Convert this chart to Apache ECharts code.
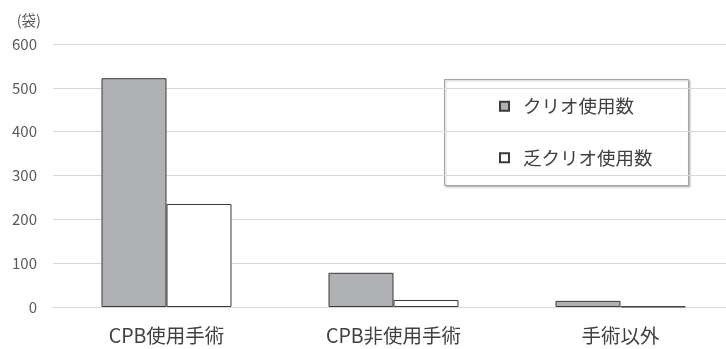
<!DOCTYPE html>
<html><head><meta charset="utf-8">
<script src="https://cdn.jsdelivr.net/npm/echarts@6/dist/echarts.min.js"></script>
<style>html,body{margin:0;padding:0;background:#fff}#c{width:726px;height:349px}</style>
</head><body><div id="c"></div>
<script>
const categories = ['CPB使用手術', 'CPB非使用手術', '手術以外'];
const cryoUsed = [522, 78, 14];
const cryoPoorUsed = [235, 16, 1];
const yTicks = [0, 100, 200, 300, 400, 500, 600];
const seriesNames = ['クリオ使用数', '乏クリオ使用数'];
const unitLabel = '(袋)';

const font = '"Noto Sans CJK JP", "Noto Sans", sans-serif';
const chart = echarts.init(document.getElementById('c'));
chart.setOption({
  animation: false,
  textStyle: { fontFamily: font },
  grid: { left: 53, width: 681, top: 44, height: 263, containLabel: false, outerBoundsMode: 'none' },
  xAxis: {
    type: 'category', data: categories,
    axisLine: { lineStyle: { color: '#d9d9d9', width: 1 } },
    axisTick: { show: false },
    axisLabel: { color: '#404040', fontSize: 19.5, margin: 19, fontFamily: font }
  },
  yAxis: {
    type: 'value', min: yTicks[0], max: yTicks[yTicks.length - 1], interval: 100,
    name: unitLabel, nameLocation: 'end', nameGap: 16,
    nameTextStyle: { color: '#595959', fontSize: 14.5, align: 'right', padding: [0, 12, 0, 0] },
    axisLine: { show: false }, axisTick: { show: false },
    splitLine: { lineStyle: { color: '#d9d9d9', width: 1 } },
    axisLabel: { color: '#595959', fontSize: 15, margin: 16 }
  },
  legend: {
    orient: 'vertical', left: 494, top: 92, itemWidth: 9, itemHeight: 9, itemGap: 33,
    textStyle: { color: '#404040', fontSize: 18.5, padding: [0, 0, 0, 9] },
    data: seriesNames.map(n => ({ name: n, icon: 'rect' }))
  },
  graphic: [{
    type: 'rect', left: 444, top: 79, z: 0,
    shape: { width: 244, height: 106 },
    style: { fill: '#fff', stroke: '#a6a6a6', lineWidth: 1, shadowBlur: 2, shadowOffsetX: 1, shadowOffsetY: 1, shadowColor: 'rgba(0,0,0,0.25)' }
  }],
  series: [
    { name: seriesNames[0], type: 'bar', data: cryoUsed, barWidth: 65, barGap: '0%',
      itemStyle: { color: '#b0b1b5', borderColor: '#3a3a3a', borderWidth: 1 } },
    { name: seriesNames[1], type: 'bar', data: cryoPoorUsed, barWidth: 65,
      itemStyle: { color: '#ffffff', borderColor: '#3a3a3a', borderWidth: 1 } }
  ]
});
</script></body></html>
